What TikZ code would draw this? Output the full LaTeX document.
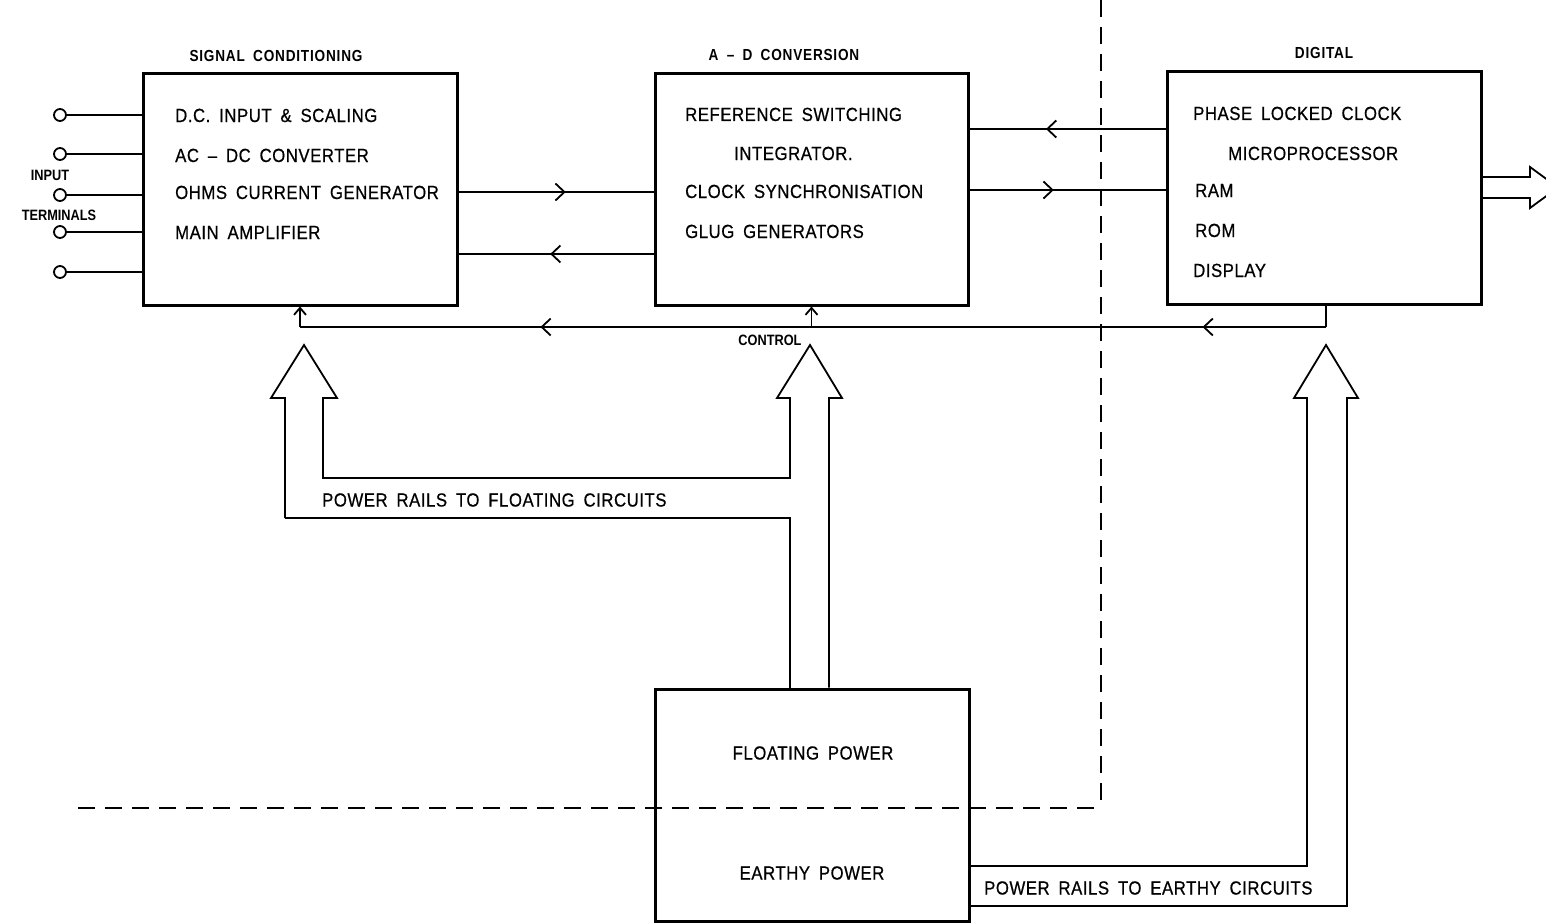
\documentclass[tikz,border=0pt]{standalone}
\usepackage{fontspec}
\setmainfont{Liberation Sans}[FakeStretch=0.88,LetterSpace=3,WordSpace=1.7,FakeBold=0.6]
\newfontfamily\headfont{Liberation Sans}[Ligatures=TeX,FakeStretch=0.85,LetterSpace=5,WordSpace=1.8]
\usetikzlibrary{arrows.meta,decorations.markings}

\tikzset{
  blk/.style={draw, line width=3pt, inner sep=0pt, fill=none},
  conn/.style={line width=1.8pt},
  term/.style={draw, circle, line width=1.8pt, minimum size=12pt, inner sep=0pt},
  txt/.style={font=\fontsize{19}{22}\selectfont, inner sep=0pt},
  line/.style={txt, anchor=base west},
  ttl/.style={font=\headfont\bfseries\fontsize{16}{18}\selectfont, inner sep=0pt},
  small/.style={font=\headfont\bfseries\fontsize{15}{17}\selectfont\addfontfeature{LetterSpace=0}, inner sep=0pt},
  midarr/.style={postaction={decorate}, decoration={markings,
      mark=at position #1 with {\arrow{Straight Barb[length=9pt,width=17pt,line width=1.8pt]}}}},
  endarr/.style={-{Straight Barb[length=7pt,width=12pt,line width=1.8pt]}},
  hollow/.style={line width=1.8pt, line join=miter},
  sep/.style={line width=2pt, dash pattern=on 17pt off 10pt},
}

\begin{document}
\begin{tikzpicture}[x=1pt,y=-1pt]
\useasboundingbox (0,0) rectangle (1546,923);

% ---- blocks ----
\node[blk, minimum width=314pt, minimum height=231pt] (sc) at (300,189.5) {};
\node[blk, minimum width=313pt, minimum height=231pt] (ad) at (811.5,189.5) {};
\node[blk, minimum width=314pt, minimum height=232pt] (dg) at (1324,188) {};
\node[blk, minimum width=314pt, minimum height=232pt] (pw) at (812,805) {};

% ---- block titles ----
\node[ttl] (tsc) at (276,56) {SIGNAL CONDITIONING};
\node[ttl] (tad) at (784,55) {A -- D CONVERSION};
\node[ttl] (tdg) at (1324,53) {DIGITAL};

% ---- signal conditioning contents ----
\node[line] (s1) at (175,122) {D.C. INPUT \& SCALING};
\node[line] (s2) at (175,162) {AC -- DC CONVERTER};
\node[line] (s3) at (175,199) {OHMS CURRENT GENERATOR};
\node[line] (s4) at (175,239) {MAIN AMPLIFIER};

% ---- A-D conversion contents ----
\node[line] (a1) at (685,121) {REFERENCE SWITCHING};
\node[line] (a2) at (734,160) {INTEGRATOR.};
\node[line] (a3) at (685,198) {CLOCK SYNCHRONISATION};
\node[line] (a4) at (685,238) {GLUG GENERATORS};

% ---- digital contents ----
\node[line] (d1) at (1193,120) {PHASE LOCKED CLOCK};
\node[line] (d2) at (1228,160) {MICROPROCESSOR};
\node[line] (d3) at (1195,197) {RAM};
\node[line] (d4) at (1195,237) {ROM};
\node[line] (d5) at (1193,277) {DISPLAY};

% ---- power supply contents ----
\node[txt] (fp) at (813,753) {FLOATING POWER};
\node[txt] (ep) at (812,873) {EARTHY POWER};

% ---- input terminals ----
\foreach \i/\y in {1/115,2/154,3/195,4/232,5/272}{
  \node[term] (t\i) at (60,\y) {};
  \draw[conn] (t\i.east) -- (sc.west |- t\i);
}
\node[small] (lin) at (50,175) {INPUT};
\node[small] (lterm) at (59,215) {TERMINALS};

% ---- analogue <-> converter links ----
\draw[conn, midarr=0.55] (sc.east |- 0,192) -- (ad.west |- 0,192);
\draw[conn, midarr=0.53] (ad.west |- 0,254) -- (sc.east |- 0,254);

% ---- converter <-> digital links ----
\draw[conn, midarr=0.61] (dg.west |- 0,129) -- (ad.east |- 0,129);
\draw[conn, midarr=0.43] (ad.east |- 0,190) -- (dg.west |- 0,190);

% ---- control bus ----
\coordinate (c1) at (1326,327);
\coordinate (c2) at (811.5,327);
\coordinate (c3) at (300,327);
\draw[conn] (dg.south -| c1) -- (c1);
\draw[conn, midarr=0.24] (c1) -- (c2);
\draw[conn, midarr=0.53] (c2) -- (c3);
\draw[conn, endarr] (c3) -- (sc.south);
\draw[conn, endarr] (c2) -- (ad.south);
\node[small] (ctl) at (770,340) {CONTROL};

% ---- floating power rails (hollow arrows) ----
\draw[hollow] (285,518) -- (285,398) -- (271,398) -- (304,345) -- (337,398)
  -- (323,398) -- (323,478) -- (790,478) -- (790,398) -- (777,398)
  -- (810,345) -- (842,398) -- (829,398) -- (pw.north -| 829,0);
\draw[hollow] (285,518) -- (790,518) -- (pw.north -| 790,0);
\node[txt, anchor=west] (fr) at (322,500) {POWER RAILS TO FLOATING CIRCUITS};

% ---- earthy power rails (hollow arrow) ----
\draw[hollow] (pw.east |- 0,866) -- (1307,866) -- (1307,398) -- (1294,398)
  -- (1326,345) -- (1358,398) -- (1347,398) -- (1347,906) -- (pw.east |- 0,906);
\node[txt, anchor=west] (er) at (984,888) {POWER RAILS TO EARTHY CIRCUITS};

% ---- digital output ----
\begin{scope}
  \clip (0,0) rectangle (1546,923);
  \draw[hollow] (dg.east |- 0,177) -- (1530,177) -- (1530,167) -- (1558,187.5)
    -- (1530,208) -- (1530,198) -- (dg.east |- 0,198);
\end{scope}

% ---- floating / earthy boundary ----
\coordinate (bc) at (1101,808);
\draw[sep] (1101,0) -- (bc);
\draw[sep] (78,808) -- (bc);
\end{tikzpicture}
\end{document}
